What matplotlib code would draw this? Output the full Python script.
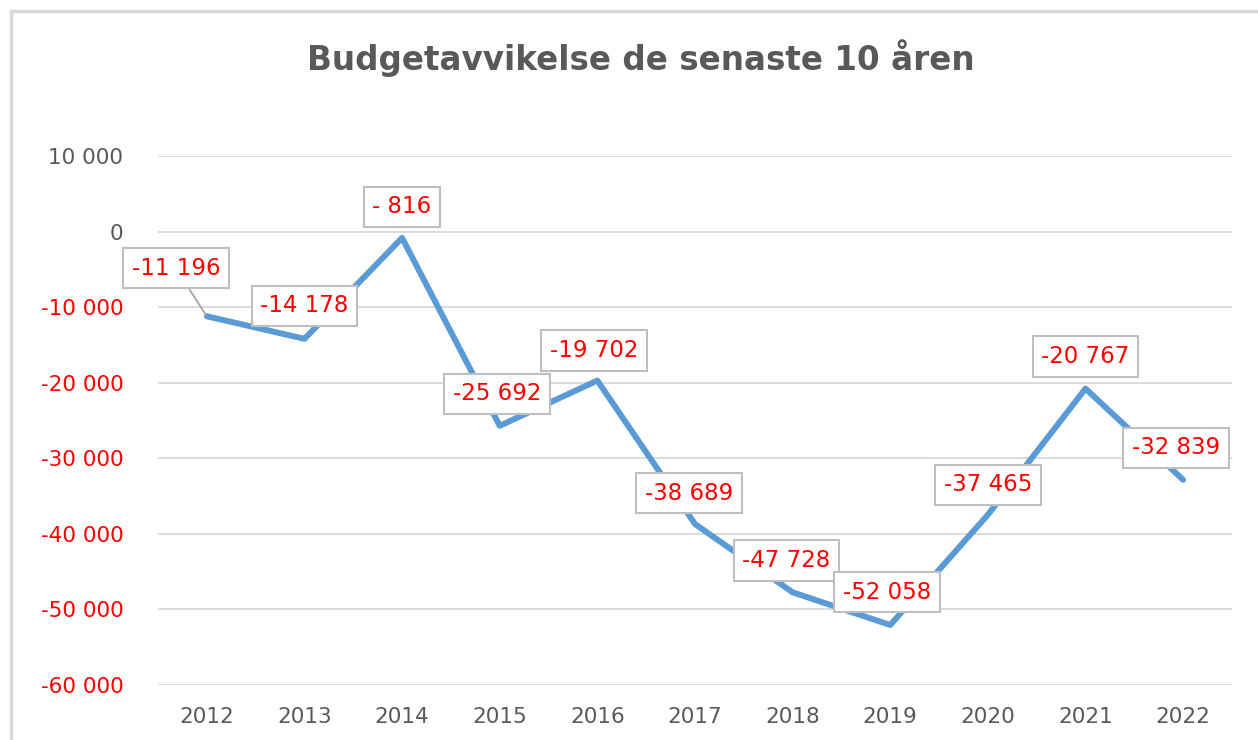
import matplotlib.pyplot as plt
from matplotlib.patches import Rectangle
from matplotlib.ticker import FuncFormatter

plt.rcParams['font.family'] = ['DejaVu Sans']

# data
years = ['2012', '2013', '2014', '2015', '2016', '2017', '2018', '2019', '2020', '2021', '2022']
avvikelse = [-11196, -14178, -816, -25692, -19702, -38689, -47728, -52058, -37465, -20767, -32839]

# label offsets in pixels (dx, dy)
label_offsets = [(-31, 48), (0, 33), (0, 31), (-3, 32), (-3, 30), (-6, 31),
                 (-6, 32), (-3, 33), (0, 30), (0, 32), (-7, 32)]

GREY = '#595959'
RED = '#ff0000'
BLUE = '#5b9bd5'


def fmt(v):
    # Excel-like "# ##0" format
    s = f"{abs(v):,.0f}".replace(',', ' ')
    if v < 0:
        return '- ' + s if abs(v) < 1000 else '-' + s
    return s


fig = plt.figure(figsize=(12.58, 7.4), dpi=100)
ax = fig.add_axes([0.1256, 0.0743, 0.8537, 0.7147])

# chart outline
fig.patches.append(Rectangle((11 / 1258, -0.05), 1.1, (740 - 11) / 740 + 0.05,
                             transform=fig.transFigure, fill=False,
                             edgecolor='#d9d9d9', lw=2.5))

x = list(range(len(years)))
ax.plot(x, avvikelse, color=BLUE, lw=4.3, solid_capstyle='round', zorder=3)

for i, v in enumerate(avvikelse):
    dx, dy = label_offsets[i]
    arrow = dict(arrowstyle='-', color='#a6a6a6', lw=1.3, shrinkA=0, shrinkB=2) if i == 0 else None
    ax.annotate(fmt(v), (i, v), xytext=(dx, dy), textcoords='offset pixels',
                ha='center', va='center', fontsize=16.5, color=RED,
                bbox=dict(boxstyle='square,pad=0.38', fc='white', ec='#bfbfbf', lw=1.5),
                arrowprops=arrow, zorder=4)

ax.set_xlim(-0.5, len(years) - 0.5)
ax.set_ylim(-60000, 10000)
ax.set_yticks(range(-60000, 10001, 10000))
ax.yaxis.set_major_formatter(FuncFormatter(lambda v, p: fmt(v)))
ax.set_xticks(x)
ax.set_xticklabels(years)
ax.grid(axis='y', color='#d9d9d9', lw=1.3)
ax.set_axisbelow(True)
for s in ax.spines.values():
    s.set_visible(False)
ax.tick_params(axis='y', length=0, pad=25, labelsize=15.5, labelcolor=GREY)
ax.tick_params(axis='x', length=0, pad=16, labelsize=15.5, labelcolor=GREY)
for lab, val in zip(ax.get_yticklabels(), ax.get_yticks()):
    if val < 0:
        lab.set_color(RED)

fig.text(0.509, 0.922, 'Budgetavvikelse de senaste 10 åren', ha='center', va='center',
         fontsize=23.5, fontweight='bold', color=GREY)

fig.savefig('out.png', dpi=100)
